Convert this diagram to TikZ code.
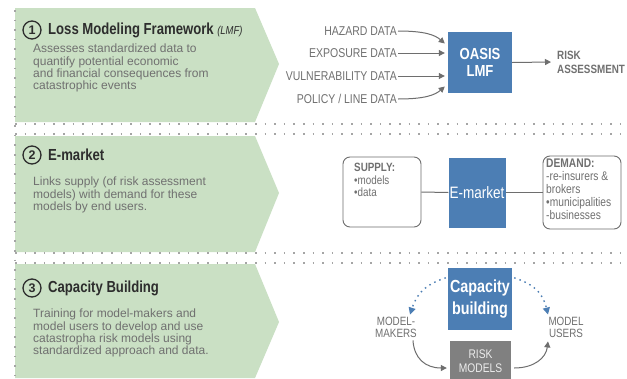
\documentclass[tikz,border=0pt]{standalone}
\usepackage{fontspec}
\setmainfont{Liberation Sans}
\newfontfamily\narrowfont[FakeStretch=0.82]{Liberation Sans}
\usetikzlibrary{arrows.meta}
\definecolor{panelgreen}{RGB}{202,224,196}
\definecolor{boxblue}{RGB}{76,126,180}
\definecolor{boxgray}{RGB}{128,128,128}
\definecolor{dotgray}{RGB}{165,165,165}
\definecolor{txtgray}{RGB}{112,112,112}
\definecolor{headdark}{RGB}{45,45,45}
\definecolor{arrgray}{RGB}{110,110,110}
\tikzset{
  sep/.style={dotgray, line width=1.6pt, dash pattern=on 1.6pt off 8pt},
  numcirc/.style={circle, draw=headdark, line width=1.3pt, minimum size=18pt, inner sep=0pt, font=\fontsize{12.5}{12}\selectfont\bfseries, text=headdark},
  headtxt/.style={anchor=west, inner sep=0pt, font=\narrowfont\fontsize{16}{16}\selectfont\bfseries, text=headdark},
  desctxt/.style={anchor=north west, inner sep=0pt, align=left, font=\fontsize{12}{12.3}\selectfont, text=txtgray},
  lab/.style={inner sep=0pt, font=\narrowfont\fontsize{12.8}{12}\selectfont, text=txtgray},
  bluebox/.style={fill=boxblue, text=white, inner sep=0pt, align=center},
  roundbox/.style={draw=arrgray, line width=0.9pt, rounded corners=7pt, inner sep=0pt},
  garrow/.style={arrgray, line width=1pt, -{Triangle[length=6pt,width=6pt]}},
  barrow/.style={boxblue, line width=1.4pt, dash pattern=on 1.5pt off 4pt, -{Triangle[length=7pt,width=7pt]}},
  gline/.style={arrgray, line width=1pt}
}
\begin{document}
\begin{tikzpicture}[x=1pt,y=-1pt]
\useasboundingbox (0,0) rectangle (627,378);
\fill[white] (0,0) rectangle (627,378);
% green arrow panels
\fill[panelgreen] (15,8) -- (255,8) -- (279,64) -- (255,122) -- (15,122) -- cycle;
\fill[panelgreen] (15,136) -- (255,136) -- (279,193) -- (255,252) -- (15,252) -- cycle;
\fill[panelgreen] (15,264) -- (255,264) -- (279,322) -- (255,378) -- (15,378) -- cycle;
% dotted separators
\draw[sep] (15,124) -- (627,124);
\draw[sep] (15,134) -- (627,134);
\draw[sep] (15,253) -- (627,253);
\draw[sep] (15,263) -- (627,263);
\draw[sep] (15,10) -- (15,378);
% panel 1 text
\node[numcirc] (n1) at (32,30) {1};
\node[headtxt] (h1) at (48,30) {Loss Modeling Framework \fontsize{11.5}{11}\selectfont\itshape\mdseries (LMF)};
\node[desctxt] (d1) at (33,44) {Assesses standardized data to\\quantify potential economic\\and financial consequences from\\catastrophic events};
% panel 2 text
\node[numcirc] (n2) at (32,155) {2};
\node[headtxt] (h2) at (48,155) {E-market};
\node[desctxt] (d2) at (33,177) {Links supply (of risk assessment\\models) with demand for these\\models by end users.};
% panel 3 text
\node[numcirc] (n3) at (32,288) {3};
\node[headtxt] (h3) at (48,288) {Capacity Building};
\node[desctxt] (d3) at (33,309) {Training for model-makers and\\model users to develop and use\\catastropha risk models using\\standardized approach and data.};
% panel 1 diagram
\node[bluebox, minimum width=64pt, minimum height=61pt, font=\narrowfont\fontsize{16}{16.5}\selectfont\bfseries] (oasis) at (480,62.5) {OASIS\\LMF};
\node[lab, anchor=east] (hz) at (397,31) {HAZARD DATA};
\node[lab, anchor=east] (ex) at (397,53) {EXPOSURE DATA};
\node[lab, anchor=east] (vu) at (397,76) {VULNERABILITY DATA};
\node[lab, anchor=east] (po) at (397,99) {POLICY / LINE DATA};
\draw[garrow] ([xshift=1pt]hz.east) .. controls (425,31) and (435,35) .. ([xshift=-3pt,yshift=19pt]oasis.west);
\draw[garrow] ([xshift=1pt]ex.east) -- ([xshift=-3pt]oasis.west |- ex.east);
\draw[garrow] ([xshift=1pt]vu.east) -- ([xshift=-3pt]oasis.west |- vu.east);
\draw[garrow] ([xshift=1pt]po.east) .. controls (425,99) and (435,95) .. ([xshift=-3pt,yshift=-24pt]oasis.west);
\node[lab, anchor=west, align=left, font=\narrowfont\fontsize{12}{14}\selectfont\bfseries] (ra) at (557,62) {RISK\\ASSESSMENT};
\draw[garrow] (oasis.east) -- ([xshift=-6pt]ra.west);
% panel 2 diagram
\node[roundbox, minimum width=78pt, minimum height=70pt] (sup) at (382,192) {};
\node[lab, anchor=north west, align=left, font=\narrowfont\fontsize{12}{12.5}\selectfont] (supt) at (354,163) {\textbf{SUPPLY:}\\•models\\•data};
\node[bluebox, minimum width=57pt, minimum height=70pt, font=\narrowfont\fontsize{16.5}{15}\selectfont] (em) at (477,192.5) {E-market};
\node[roundbox, minimum width=78pt, minimum height=73pt] (dem) at (582,192.5) {};
\node[lab, anchor=north west, align=left, font=\narrowfont\fontsize{12.5}{12.8}\selectfont] (demt) at (546,159) {\textbf{DEMAND:}\\-re-insurers \&\\brokers\\•municipalities\\-businesses};
\draw[gline] (sup.east) -- (em.west);
\draw[gline] (em.east) -- (dem.west);
% panel 3 diagram
\node[bluebox, minimum width=64pt, minimum height=62pt, font=\narrowfont\fontsize{17.5}{22}\selectfont\bfseries] (cap) at (480,299) {Capacity\\building};
\node[fill=boxgray, text=white!85!gray, minimum width=61pt, minimum height=40pt, inner sep=0pt, align=center, font=\narrowfont\fontsize{12.5}{14}\selectfont] (rm) at (480.5,361) {RISK\\MODELS};
\node[lab, align=center, font=\narrowfont\fontsize{12}{12}\selectfont] (mm) at (396,327) {MODEL-\\MAKERS};
\node[lab, align=center, font=\narrowfont\fontsize{12}{12}\selectfont] (mu) at (566,327) {MODEL\\USERS};
\draw[barrow] ([xshift=-2pt,yshift=-10pt]cap.north west) .. controls (430,283) and (418,290) .. ([yshift=2pt,xshift=14pt]mm.north);
\draw[barrow] ([xshift=2pt,yshift=-10pt]cap.north east) .. controls (530,283) and (542,290) .. ([yshift=2pt,xshift=-18pt]mu.north);
\draw[garrow] ([xshift=17pt,yshift=-3pt]mm.south) .. controls (414,358) and (425,368) .. ([xshift=-3pt,yshift=-7pt]rm.west);
\draw[garrow] ([xshift=3pt,yshift=-7pt]rm.east) .. controls (534,368) and (546,358) .. ([xshift=-18pt,yshift=-4pt]mu.south);
\end{tikzpicture}
\end{document}
